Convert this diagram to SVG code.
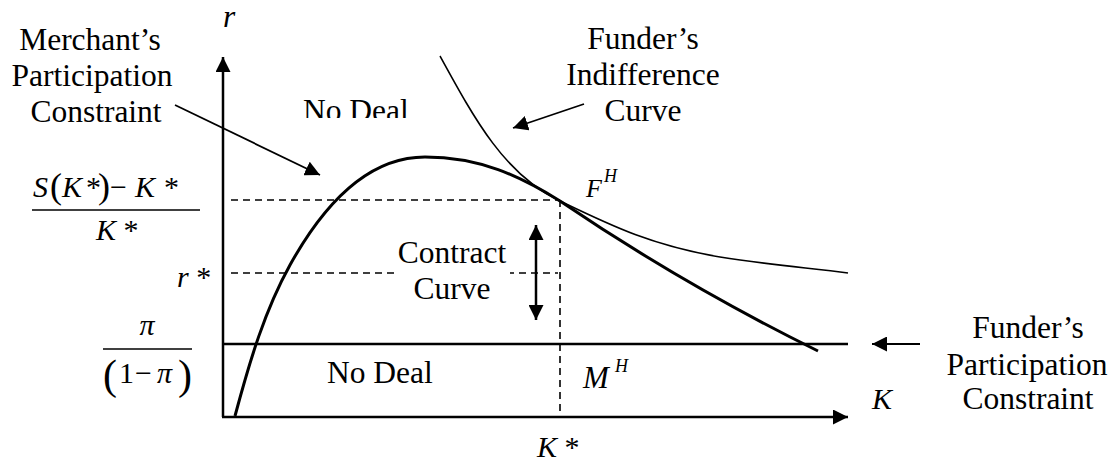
<svg xmlns="http://www.w3.org/2000/svg" width="1115" height="461" viewBox="0 0 1115 461">
<defs>
<style>
.t{font-size:31.5px}
.i{font-style:italic}
.ax{stroke:#000;stroke-width:2.5;fill:none}
.dash{stroke:#000;stroke-width:1.6;stroke-dasharray:7 5;fill:none}
.thick{stroke:#000;stroke-width:3;fill:none}
.thin{stroke:#000;stroke-width:1.6;fill:none}
.ptr{stroke:#000;stroke-width:1.8;fill:none}
</style>
<marker id="ah" markerUnits="userSpaceOnUse" markerWidth="16" markerHeight="15" refX="15" refY="7.5" orient="auto-start-reverse" viewBox="0 0 16 15">
<path d="M0,0 L15,7.5 L0,15 z" fill="#000"/>
</marker>
<clipPath id="clipND"><rect x="290" y="90" width="140" height="28"/></clipPath>
</defs>
<rect width="1115" height="461" fill="#fff"/>

<g id="axes">
<line class="ax" x1="223" y1="417" x2="223" y2="57" marker-end="url(#ah)"/>
<line class="ax" x1="222" y1="417" x2="848" y2="417" marker-end="url(#ah)"/>
</g>

<g id="guides">
<line class="dash" x1="231" y1="200" x2="560" y2="200"/>
<line class="dash" x1="231" y1="273" x2="558" y2="273"/>
<line class="dash" x1="560" y1="200" x2="560" y2="417"/>
</g>

<g id="funder-participation-line">
<line class="ax" x1="223" y1="344" x2="848" y2="344"/>
</g>

<g id="merchant-curve">
<path class="thick" d="M235,416 C250,360 265,310 290,265 C315,220 360,157 425,157 C480,157 520,176 560,201 C650,262 745,315 818,351"/>
</g>

<g id="indifference-curve">
<path class="thin" d="M440,56 C475,120 505,175 560,201 C610,225 650,245 720,257 C770,265 810,268 848,273"/>
</g>

<g id="connectors">
<line class="ptr" x1="175" y1="105" x2="320" y2="175" marker-end="url(#ah)"/>
<line class="ptr" x1="584" y1="104" x2="513" y2="128" marker-end="url(#ah)"/>
<line class="ptr" x1="920" y1="344" x2="872" y2="344" marker-end="url(#ah)"/>
<line class="ax" x1="536" y1="225" x2="536" y2="320" marker-start="url(#ah)" marker-end="url(#ah)"/>
</g>

<g font-family="Liberation Serif, Times New Roman, serif" fill="#000">
<g id="label-r"><text class="t i" x="223" y="27" font-size="28">r</text></g>

<g id="merchant-label">
<text class="t" text-anchor="middle"><tspan x="90" y="50">Merchant’s</tspan><tspan x="92" y="86">Participation</tspan><tspan x="96" y="122">Constraint</tspan></text>
</g>

<g id="funder-indiff-label">
<text class="t" text-anchor="middle"><tspan x="643" y="49">Funder’s</tspan><tspan x="643" y="85">Indifference</tspan><tspan x="643" y="121">Curve</tspan></text>
</g>

<g id="no-deal-top">
<text class="t" x="303" y="121" clip-path="url(#clipND)">No Deal</text>
</g>

<g id="no-deal-bottom">
<text class="t" x="327" y="383">No Deal</text>
</g>

<g id="contract-curve">
<rect x="394" y="244" width="116" height="60" fill="#fff"/>
<text class="t" text-anchor="middle"><tspan x="452" y="263">Contract</tspan><tspan x="452" y="299">Curve</tspan></text>
</g>

<g id="funder-participation-label">
<text class="t" text-anchor="middle"><tspan x="1028" y="338">Funder’s</tspan><tspan x="1027" y="375">Participation</tspan><tspan x="1028" y="409">Constraint</tspan></text>
</g>

<g id="label-FH">
<text class="i" x="586" y="197" font-size="26">F</text>
<text class="i" x="604" y="182" font-size="18">H</text>
</g>

<g id="label-MH">
<text class="i" x="583" y="388" font-size="31">M</text>
<text class="i" x="615" y="372" font-size="18">H</text>
</g>

<g id="label-K">
<text class="i" x="872" y="409" font-size="30">K</text>
</g>

<g id="label-Kstar">
<text x="537" y="457" font-size="30"><tspan class="i">K</tspan> *</text>
</g>

<g id="label-frac-S">
<text y="197" font-size="30"><tspan class="i" x="33">S</tspan><tspan x="50" font-size="36" y="198">(</tspan><tspan class="i" x="62" y="197">K</tspan><tspan x="86">*</tspan><tspan x="98" font-size="36" y="198">)</tspan><tspan x="110" y="197">−</tspan><tspan class="i" x="135">K</tspan><tspan x="164">*</tspan></text>
<line x1="32" y1="210" x2="200" y2="210" stroke="#000" stroke-width="1.5"/>
<text x="96" y="240" font-size="30"><tspan class="i">K</tspan> *</text>
</g>

<g id="label-rstar">
<text x="177" y="287" font-size="30"><tspan class="i">r</tspan> *</text>
</g>

<g id="label-frac-pi">
<text class="i" x="147" y="335" font-size="30" text-anchor="middle">π</text>
<line x1="103" y1="349" x2="192" y2="349" stroke="#000" stroke-width="1.5"/>
<text y="387" font-size="30"><tspan x="103" font-size="42" y="389">(</tspan><tspan x="119" y="383">1</tspan><tspan x="135">−</tspan><tspan class="i" x="157">π</tspan><tspan x="178" font-size="42" y="389">)</tspan></text>
</g>
</g>
</svg>
